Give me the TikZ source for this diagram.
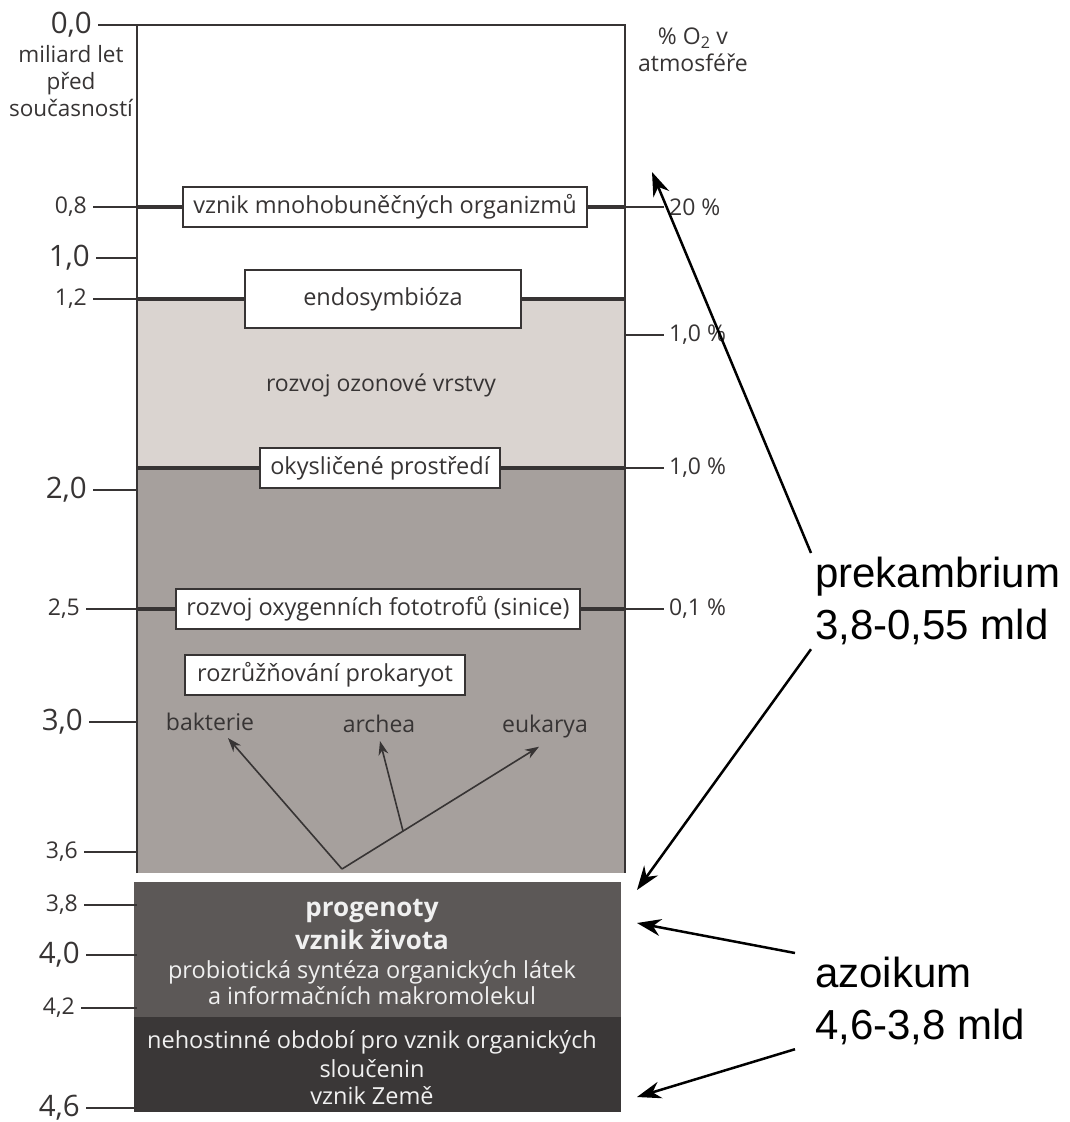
\documentclass[tikz,border=0pt]{standalone}
\usepackage{fontspec}
\setmainfont{Open Sans}
\newfontfamily\arialfont{Liberation Sans}
\usetikzlibrary{arrows.meta,positioning}

\definecolor{inkgray}{RGB}{55,52,52}
\definecolor{lightzone}{RGB}{218,212,208}
\definecolor{darkzone}{RGB}{166,160,157}
\definecolor{progzone}{RGB}{92,88,87}
\definecolor{earthzone}{RGB}{58,55,55}

\tikzset{
  eventbox/.style={draw=inkgray, fill=white, line width=1.5pt, text=inkgray,
    font=\fontsize{23.5}{27}\selectfont, inner sep=0pt, minimum height=40pt},
  plaintext/.style={text=inkgray, font=\fontsize{23}{28}\selectfont, inner sep=3pt},
  ticklabel/.style={text=inkgray, font=\fontsize{23}{27}\selectfont, inner sep=0pt},
  bigticklabel/.style={text=inkgray, font=\fontsize{29.5}{33}\selectfont, inner sep=0pt},
  tickline/.style={draw=inkgray, line width=1.5pt},
  edgeline/.style={draw=inkgray, line width=3.5pt},
  treearrow/.style={draw=inkgray, line width=1.6pt, -{Stealth[length=14pt,width=10pt]}},
  bandtext/.style={text=white!94!black, inner sep=0pt, font=\fontsize{23.5}{28}\selectfont},
  bandhead/.style={bandtext, font=\bfseries\fontsize{26}{30}\selectfont},
  erabox/.style={font=\arialfont\fontsize{42}{52}\selectfont, align=left, inner sep=4pt},
  eraarrow/.style={draw=black, line width=2.5pt, -{Stealth[length=24pt,width=17pt]}},
}

\begin{document}
\begin{tikzpicture}[x=1pt,y=-1pt]
\useasboundingbox (0,0) rectangle (1069,1122);

% zones of the time column
\fill[lightzone] (137,299) rectangle (625,468);
\fill[darkzone] (137,468) rectangle (625,873);
\fill[progzone] (134,882) rectangle (621,1017);
\fill[earthzone] (134,1017) rectangle (621,1112);

% left scale
\foreach \y/\lab/\xe/\sty [count=\i] in {25/{0,0}/92/bigticklabel, 207/{0,8}/87/ticklabel,
    258/{1,0}/90/bigticklabel, 299/{1,2}/87/ticklabel, 490/{2,0}/87/bigticklabel,
    609/{2,5}/80/ticklabel, 722/{3,0}/83/bigticklabel, 852/{3,6}/78/ticklabel,
    905/{3,8}/78/ticklabel, 955/{4,0}/80/bigticklabel, 1008/{4,2}/75/ticklabel,
    1108/{4,6}/80/bigticklabel}{
  \node[\sty, anchor=east] (t\i) at (\xe,\y) {\lab};
  \coordinate (c\i) at (137,\y);
  \draw[tickline] ([xshift=6pt]t\i.east) -- (c\i);
}
\node[plaintext, align=center, font=\fontsize{22.5}{27}\selectfont] (unit) at (71,81) {miliard let\\před\\současností};

% right scale
\foreach \y/\lab [count=\j] in {207/{20 \%}, 335/{1,0 \%}, 468/{1,0 \%}, 609/{0,1 \%}}{
  \coordinate (o\j) at (625,\y);
  \node[ticklabel, anchor=west] (p\j) at (669,\y) {\lab};
  \draw[tickline] (o\j) -- ([xshift=-5pt]p\j.west);
}
\node[plaintext, align=center, font=\fontsize{23}{27}\selectfont] (o2head) at (693,50) {\% O\textsubscript{2} v\\atmosféře};

% column outline
\coordinate (colTR) at (625,25);
\coordinate (colBL) at (137,873);
\coordinate (colBR) at (625,873);
\draw[tickline] (colBL) -- (c1) -- (colTR) -- (colBR);

% events
\node[eventbox, minimum width=404pt] (multi) at (385,207) {vznik mnohobuněčných organizmů};
\node[eventbox, minimum width=276pt, minimum height=58pt] (endo) at (383,299) {endosymbióza};
\node[plaintext] (ozone) at (381,385) {rozvoj ozonové vrstvy};
\coordinate (b20L) at (137,468);
\coordinate (b12R) at (625,299);
\node[eventbox, minimum width=240pt] (oxy) at (380,468) {okysličené prostředí};
\node[eventbox, minimum width=404pt] (sin) at (378,609) {rozvoj oxygenních fototrofů (sinice)};
\node[eventbox, minimum width=280pt] (prok) at (325,675) {rozrůžňování prokaryot};

\draw[edgeline] (c2) -- (multi.west);
\draw[edgeline] (multi.east) -- (o1);
\draw[edgeline] (c4) -- (endo.west);
\draw[edgeline] (endo.east) -- (b12R);
\draw[edgeline] (b20L) -- (oxy.west);
\draw[edgeline] (oxy.east) -- (o3);
\draw[edgeline] (c6) -- (sin.west);
\draw[edgeline] (sin.east) -- (o4);

% domains of life
\node[plaintext] (bact) at (210,722) {bakterie};
\node[plaintext] (arch) at (379,724) {archea};
\node[plaintext] (euk) at (545,727) {eukarya};
\coordinate (root) at (342,869);
\coordinate (fork) at (403,831);
\draw[treearrow] (root) -- ([xshift=18pt,yshift=-4pt]bact.south);
\draw[treearrow] (root) -- ([xshift=-6pt,yshift=-5pt]euk.south);
\draw[treearrow] (fork) -- ([xshift=1pt,yshift=-5pt]arch.south);

% early Earth
\node[bandhead] (prog1) at (372,911) {progenoty};
\node[bandhead] (prog2) at (372,940) {vznik života};
\node[bandtext] (prog3) at (372,972) {probiotická syntéza organických látek};
\node[bandtext] (prog4) at (372,996) {a informačních makromolekul};
\node[bandtext] (earth1) at (372,1042) {nehostinné období pro vznik organických};
\node[bandtext] (earth2) at (372,1069) {sloučenin};
\node[bandtext] (earth3) at (372,1096) {vznik Země};

% eras
\node[erabox, anchor=north west] (prek) at (811,553) {prekambrium\\3,8-0,55 mld};
\node[erabox, anchor=north west, inner xsep=20pt] (azo) at (795,953) {azoikum\\4,6-3,8 mld};
\coordinate (prekTop) at (652,172);
\coordinate (prekBot) at (637,890);
\coordinate (azoTop) at (637,923);
\coordinate (azoBot) at (637,1097);
\draw[eraarrow] (prek.north west) -- (prekTop);
\draw[eraarrow] (prek.south west) -- (prekBot);
\draw[eraarrow] (azo.north west) -- (azoTop);
\draw[eraarrow] (azo.south west) -- (azoBot);

\end{tikzpicture}
\end{document}
